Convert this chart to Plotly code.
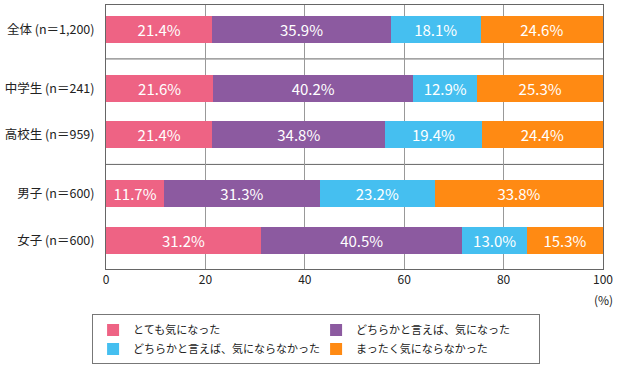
import plotly.graph_objects as go

categories = ["全体 (n＝1,200)", "中学生 (n＝241)", "高校生 (n＝959)", "男子 (n＝600)", "女子 (n＝600)"]
groups = [[0], [1, 2], [3, 4]]  # category indices per block
series_names = ["とても気になった", "どちらかと言えば、気になった",
                "どちらかと言えば、気にならなかった", "まったく気にならなかった"]
v_very = [21.4, 21.6, 21.4, 11.7, 31.2]
v_some = [35.9, 40.2, 34.8, 31.3, 40.5]
v_notmuch = [18.1, 12.9, 19.4, 23.2, 13.0]
v_never = [24.6, 25.3, 24.4, 33.8, 15.3]
x_ticks = [0, 20, 40, 60, 80, 100]

colors = ["#EE6384", "#8C5AA0", "#45BFF0", "#FF8A13"]
FONT = "Noto Sans CJK JP, Noto Sans, sans-serif"

# row positions: rows within a block are 1 unit apart, blocks separated by extra gap
gap = 1.27
ypos = []
cur = 0.0
for gi, g in enumerate(groups):
    if gi > 0:
        cur += gap - 1
    for _ in g:
        ypos.append(cur)
        cur += 1
seps = []
for gi in range(1, len(groups)):
    prev_last = ypos[groups[gi - 1][-1]]
    nxt = ypos[groups[gi][0]]
    seps.append(prev_last + 0.5 * (nxt - prev_last) + 0.005)

fig = go.Figure()
for name, vals, col in zip(series_names, [v_very, v_some, v_notmuch, v_never], colors):
    fig.add_trace(go.Bar(
        y=ypos, x=vals, name=name, orientation="h",
        marker=dict(color=col, line=dict(width=0)),
        width=0.58,
        texttemplate="%{x:.1f}%", textposition="inside", insidetextanchor="middle",
        textfont=dict(color="white", size=15, family=FONT),
        constraintext="none",
        hoverinfo="skip",
    ))

shapes = []
for s in seps:
    shapes.append(dict(type="line", xref="x", yref="y", x0=0, x1=100, y0=s, y1=s,
                       line=dict(color="#666", width=1), layer="below"))

fig.update_layout(
    barmode="stack",
    width=619, height=366,
    margin=dict(l=106, r=16, t=5, b=97, autoexpand=False),
    plot_bgcolor="white", paper_bgcolor="white",
    font=dict(family=FONT, color="#222", size=11),
    shapes=shapes,
    showlegend=True,
    legend=dict(
        orientation="h", x=-0.028, y=-0.172, xanchor="left", yanchor="top",
        entrywidth=178, entrywidthmode="pixels",
        bordercolor="#777", borderwidth=1, bgcolor="white",
        font=dict(size=11, family=FONT, color="#222"),
        traceorder="normal", itemclick=False,
        tracegroupgap=0,
    ),
    annotations=[dict(text="(%)", x=100, y=0, xref="x", yref="paper",
                      yanchor="top", xanchor="center", yshift=-20, showarrow=False,
                      font=dict(size=12, family=FONT, color="#222"))],
)
fig.update_xaxes(range=[0, 100], tickvals=x_ticks, showgrid=True, gridcolor="#999",
                 gridwidth=1, showline=True, linecolor="#666", mirror=True,
                 zeroline=False, ticks="", tickfont=dict(size=12), fixedrange=True,
                 automargin=False)
fig.update_yaxes(range=[ypos[-1] + 0.62, -0.52], tickvals=ypos, ticktext=categories,
                 showgrid=False, showline=True, linecolor="#666", mirror=True,
                 zeroline=False, ticks="", ticklabelstandoff=8, automargin=False,
                 tickfont=dict(size=12.5), fixedrange=True)

fig.write_html("out.html", post_script="document.body.style.margin='0';",
               config={"displayModeBar": False})
